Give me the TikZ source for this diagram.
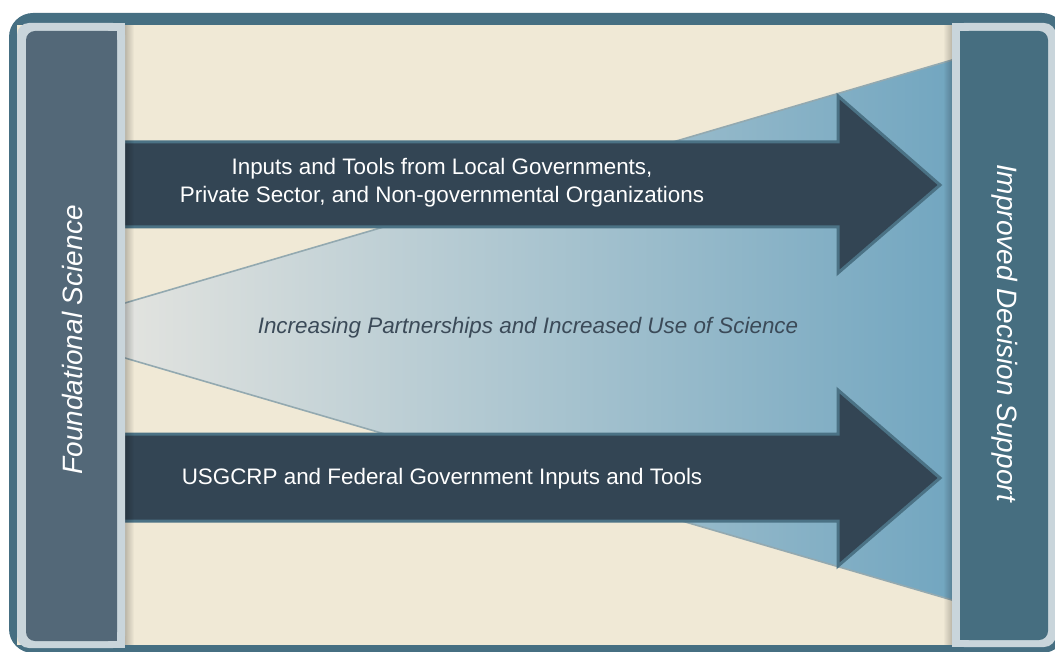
\documentclass[tikz,border=0pt]{standalone}
\usepackage{fontspec}
\setmainfont{Liberation Sans}
\usetikzlibrary{fadings}
\definecolor{frame}{HTML}{466F82}
\definecolor{rim}{HTML}{C9D5DB}
\definecolor{leftcol}{HTML}{536878}
\definecolor{rightcol}{HTML}{466E80}
\definecolor{cream}{HTML}{F0E9D6}
\definecolor{barfill}{HTML}{334554}
\definecolor{barline}{HTML}{4B7285}
\definecolor{fanleft}{HTML}{E2E3DF}
\definecolor{fanmid}{HTML}{9AACA9}
\definecolor{fanright}{HTML}{72A6C0}
\definecolor{fanedge}{HTML}{93A9B0}
\definecolor{ink}{HTML}{3B4A58}
\tikzset{
  every node/.style={inner sep=0pt},
  bar/.style={fill=barfill, draw=barline, line width=3pt, line join=miter},
  fan/.style={left color=fanleft, middle color=fanmid, right color=fanright},
  fanline/.style={draw=fanedge, line width=1.6pt},
  shadowstrip/.style={fill=black, opacity=0.22},
  barlab/.style={text=white, align=center, font=\fontsize{22.4}{28}\selectfont},
  fanlab/.style={text=ink, font=\fontsize{22.4}{26}\selectfont\itshape},
  sidelab/.style={text=white, font=\fontsize{28}{32}\selectfont\itshape},
}
\begin{document}
\begin{tikzpicture}[x=1pt, y=-1pt]
% ---- grid (px) ---------------------------------------------------------------
\def\xL{125} \def\xR{952} \def\xN{838} \def\xT{940}
\useasboundingbox (0,0) rectangle (1055,652);

% ---- frame and ground ---------------------------------------------------------
\fill[frame, rounded corners=24pt] (9,13) rectangle (1066,653);
\fill[cream] (17,25) rectangle (1050,645);

% ---- widening band ------------------------------------------------------------
\shade[fan] (\xL,303) -- (\xR,60) -- (\xR,600) -- (\xL,358) -- cycle;
\draw[fanline] (\xL,303) -- (\xR,60);
\draw[fanline] (\xL,358) -- (\xR,600);

% ---- arrows -------------------------------------------------------------------
\filldraw[bar] (\xL-10,142) -- (\xN,142) -- (\xN,96) -- (\xT,185)
               -- (\xN,273) -- (\xN,227) -- (\xL-10,227) -- cycle;
\filldraw[bar] (\xL-10,434) -- (\xN,434) -- (\xN,390) -- (\xT,478)
               -- (\xN,566) -- (\xN,521) -- (\xL-10,521) -- cycle;

% ---- column shadows -----------------------------------------------------------
\fill[shadowstrip, path fading=east] (\xL,25) rectangle (\xL+9,645);
\fill[shadowstrip, path fading=west] (\xR-9,25) rectangle (\xR,645);

% ---- columns ------------------------------------------------------------------
\fill[rim, rounded corners=12pt] (17,23) rectangle (\xL,648);
\fill[rim] (80,23) rectangle (\xL,648);
\fill[leftcol, rounded corners=9pt] (26,31) rectangle (117,641);
\fill[leftcol] (80,31) rectangle (117,641);
\fill[rim, rounded corners=12pt] (\xR,23) rectangle (1056,647);
\fill[rim] (\xR,23) rectangle (1000,647);
\fill[rightcol, rounded corners=9pt] (960,31) rectangle (1048,640);
\fill[rightcol] (960,31) rectangle (1000,640);

% ---- labels -------------------------------------------------------------------
\node[sidelab, rotate=90] (found) at (72,340) {Foundational Science};
\node[sidelab, rotate=-90] (decide) at (1005,333) {Improved Decision Support};
\node[barlab] (local) at (442,183) {Inputs and Tools from Local Governments,\\Private Sector, and Non-governmental Organizations};
\node[barlab, anchor=base] (fed) at (442,484) {USGCRP and Federal Government Inputs and Tools};
\node[fanlab, anchor=base] (growth) at (528,334) {Increasing Partnerships and Increased Use of Science};
\end{tikzpicture}
\end{document}
